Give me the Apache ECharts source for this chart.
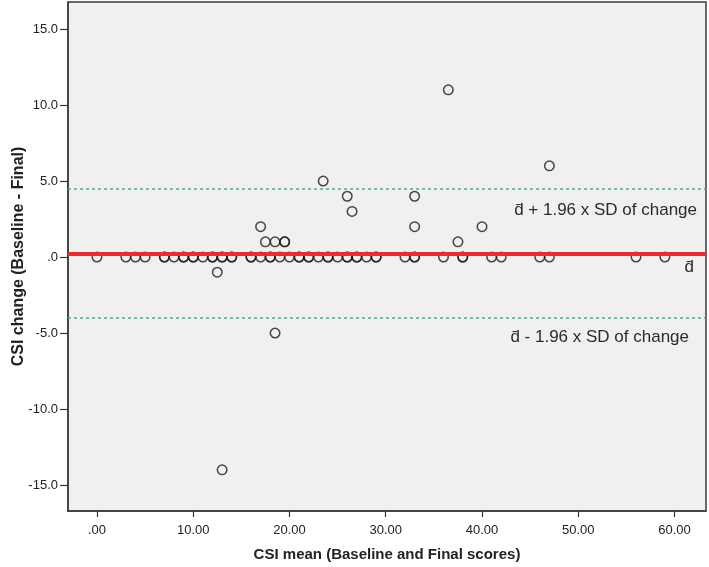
<!DOCTYPE html>
<html>
<head>
<meta charset="utf-8">
<script src="https://cdn.jsdelivr.net/npm/echarts@6/dist/echarts.min.js"></script>
<style>
html,body{margin:0;padding:0;background:#fff;}
#chart{width:709px;height:567px;}
</style>
</head>
<body>
<div id="chart"></div>
<script>
// CSI mean (x) and CSI change (y) for each participant
const meanScores = [0,3,4,5,7,7,8,9,9,10,10,11,12,12,13,13,14,14,16,16,17,18,18,19,20,21,21,22,22,23,24,24,25,26,26,27,27,28,29,29,32,33,33,36,38,38,41,42,46,47,56,59,
  12.5,13,17,17.5,18.5,19.5,19.5,18.5,23.5,26,26.5,33,33,36.5,37.5,40,47];
const changes = [0,0,0,0,0,0,0,0,0,0,0,0,0,0,0,0,0,0,0,0,0,0,0,0,0,0,0,0,0,0,0,0,0,0,0,0,0,0,0,0,0,0,0,0,0,0,0,0,0,0,0,0,
  -1,-14,2,1,1,1,1,-5,5,4,3,4,2,11,1,2,6];
const meanDiff = 0.24;
const upperLoA = 4.47;
const lowerLoA = -4.0;
const yTicks = [-15,-10,-5,0,5,10,15];
const xTicks = [0,10,20,30,40,50,60];
const upperText = 'd\u0304 + 1.96 x SD of change';
const meanText = 'd\u0304';
const lowerText = 'd\u0304 - 1.96 x SD of change';

const FONT = '"Liberation Sans", Arial, sans-serif';
const chart = echarts.init(document.getElementById('chart'), null, {renderer:'canvas'});
const pts = meanScores.map((x,i)=>[x, changes[i]]);

function fmtY(v){ const s = Number(v).toFixed(1); return s.replace(/^(-?)0\./,'$1.'); }
function fmtX(v){ const s = Number(v).toFixed(2); return s.replace(/^0\./,'.'); }

const option = {
  animation:false,
  backgroundColor:'#ffffff',
  grid:{left:68,right:3,top:2,bottom:56,outerBoundsMode:'none',containLabel:false,show:true,backgroundColor:'#f0f0f0',borderColor:'#3a3a3a',borderWidth:1.5},
  xAxis:{
    type:'value',min:-3.01,max:63.27,
    splitLine:{show:false},
    axisLine:{show:true,onZero:false,lineStyle:{color:'#3a3a3a',width:1.5}},
    axisTick:{show:true,customValues:xTicks,length:6,lineStyle:{color:'#333',width:1.2}},
    axisLabel:{customValues:xTicks,formatter:fmtX,color:'#222',fontFamily:FONT,fontSize:13,margin:13},
    name:'CSI mean (Baseline and Final scores)',nameLocation:'middle',nameGap:36,nameMoveOverlap:false,
    nameTextStyle:{fontFamily:FONT,fontWeight:'bold',fontSize:15,color:'#222'}
  },
  yAxis:{
    type:'value',min:-16.71,max:16.78,
    splitLine:{show:false},
    axisLine:{show:true,onZero:false,lineStyle:{color:'#3a3a3a',width:1.5}},
    axisTick:{show:true,customValues:yTicks,length:8,lineStyle:{color:'#333',width:1.2}},
    axisLabel:{customValues:yTicks,formatter:fmtY,color:'#222',fontFamily:FONT,fontSize:13,margin:10},
    name:'CSI change (Baseline - Final)',nameLocation:'middle',nameGap:41,nameMoveOverlap:false,
    nameTextStyle:{fontFamily:FONT,fontWeight:'bold',fontSize:16,color:'#222'}
  },
  series:[
    {
      type:'scatter',data:pts,symbol:'circle',symbolSize:9.5,z:2,
      itemStyle:{color:'rgba(0,0,0,0)',borderColor:'#1a1a1a',borderWidth:1.5}
    },
    {
      type:'line',data:[],z:5,
      markLine:{
        silent:true,symbol:'none',animation:false,
        label:{show:false},
        data:[
          {yAxis:meanDiff,lineStyle:{color:'#ee2a2a',width:4,type:'solid'}},
          {yAxis:upperLoA,lineStyle:{color:'#4daf7c',width:1.6,type:[3,3]}},
          {yAxis:lowerLoA,lineStyle:{color:'#4daf7c',width:1.6,type:[3,3]}}
        ]
      }
    }
  ]
};
chart.setOption(option);

const rightX = chart.convertToPixel({gridIndex:0},[63.27,0])[0];
const yUp = chart.convertToPixel({gridIndex:0},[0,upperLoA])[1];
const yMean = chart.convertToPixel({gridIndex:0},[0,meanDiff])[1];
const yLow = chart.convertToPixel({gridIndex:0},[0,lowerLoA])[1];
const ts = {fontFamily:FONT,fontSize:17,fill:'#2a2a2a',textAlign:'right',textVerticalAlign:'middle'};
chart.setOption({graphic:[
  {type:'text',x:rightX-9,y:yUp+21,style:Object.assign({text:upperText},ts)},
  {type:'text',x:rightX-12,y:yMean+14,style:Object.assign({text:meanText},ts)},
  {type:'text',x:rightX-17,y:yLow+19,style:Object.assign({text:lowerText},ts)}
]});
</script>
</body>
</html>
